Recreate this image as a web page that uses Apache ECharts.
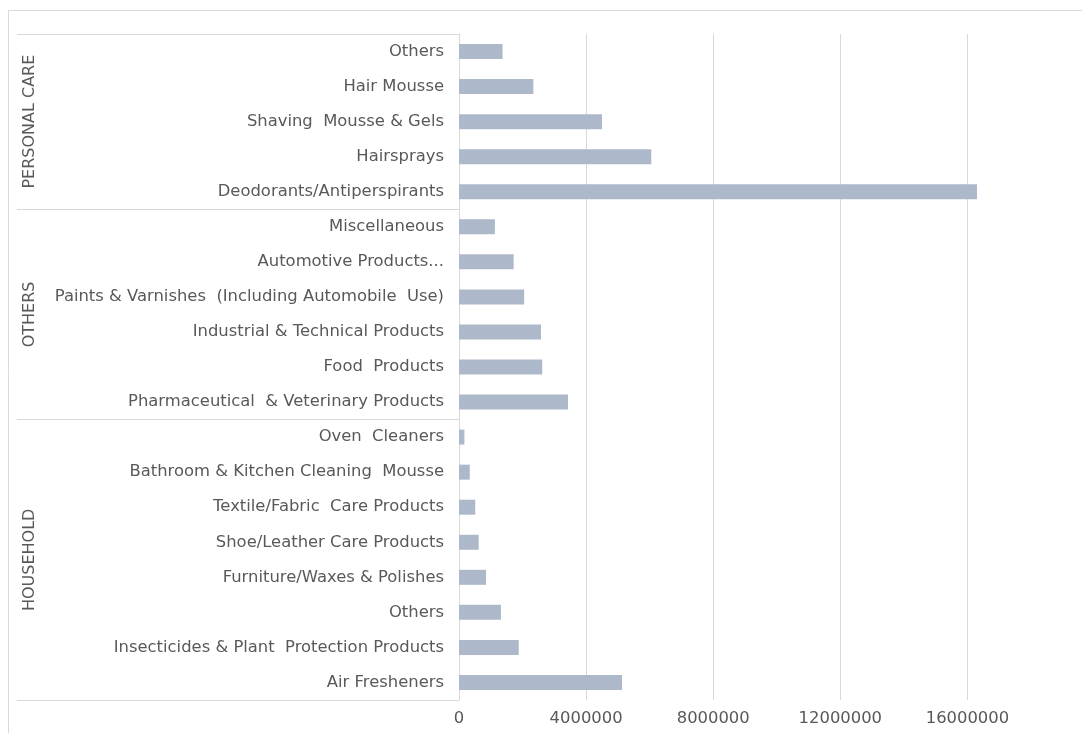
<!DOCTYPE html>
<html>
<head>
<meta charset="utf-8">
<script src="https://cdn.jsdelivr.net/npm/echarts@6/dist/echarts.min.js"></script>
<style>
html,body{margin:0;padding:0;background:#fff;overflow:hidden;}
#c{width:1082px;height:733px;}
</style>
</head>
<body>
<div id="c"></div>
<script>
// Categories listed top to bottom
const categories = [
  "Others", "Hair Mousse", "Shaving  Mousse & Gels", "Hairsprays", "Deodorants/Antiperspirants",
  "Miscellaneous", "Automotive Products...", "Paints & Varnishes  (Including Automobile  Use)",
  "Industrial & Technical Products", "Food  Products", "Pharmaceutical  & Veterinary Products",
  "Oven  Cleaners", "Bathroom & Kitchen Cleaning  Mousse", "Textile/Fabric  Care Products",
  "Shoe/Leather Care Products", "Furniture/Waxes & Polishes", "Others",
  "Insecticides & Plant  Protection Products", "Air Fresheners"
];
const values = [
  1370000, 2340000, 4500000, 6050000, 16300000,
  1130000, 1720000, 2050000, 2580000, 2620000, 3430000,
  170000, 340000, 510000, 620000, 850000, 1320000, 1880000, 5130000
];
const groups = ["PERSONAL CARE", "OTHERS", "HOUSEHOLD"];
const groupSizes = [5, 6, 8];
const xTicks = [0, 4000000, 8000000, 12000000, 16000000];

// group boundaries and centres (in category units)
const bounds = [0];
groupSizes.forEach(s => bounds.push(bounds[bounds.length - 1] + s));
const centres = groupSizes.map((s, i) => bounds[i] + s / 2);

const FONT = "'DejaVu Sans', Verdana, sans-serif";
const TXT = "#595959";
const GRID = "#d9d9d9";

const chart = echarts.init(document.getElementById('c'), null, {renderer: 'canvas'});
chart.setOption({
  backgroundColor: '#fff',
  animation: false,
  graphic: [
    {type: 'line', shape: {x1: 8.5, y1: 10.5, x2: 1082, y2: 10.5}, style: {stroke: GRID, lineWidth: 1}, silent: true},
    {type: 'line', shape: {x1: 8.5, y1: 10.5, x2: 8.5, y2: 733}, style: {stroke: GRID, lineWidth: 1}, silent: true}
  ],
  grid: {left: 459, top: 34, right: 51, bottom: 33, containLabel: false},
  xAxis: {
    type: 'value', min: 0, max: 18000000, interval: 4000000,
    axisLine: {show: false}, axisTick: {show: false},
    axisLabel: {color: TXT, fontFamily: FONT, fontSize: 16.4, margin: 11,
      customValues: xTicks, formatter: v => String(v)},
    splitLine: {show: true, showMaxLine: false, lineStyle: {color: GRID, width: 1}}
  },
  yAxis: [{
    type: 'category', data: categories, inverse: true,
    axisLine: {show: true, lineStyle: {color: GRID}},
    axisTick: {show: false},
    axisLabel: {color: TXT, fontFamily: FONT, fontSize: 16.4, margin: 15, interval: 0},
    splitLine: {show: false}
  }, {
    type: 'value', min: 0, max: categories.length, inverse: true, position: 'left',
    axisLine: {show: false},
    axisTick: {show: true, inside: false, length: 442, customValues: bounds,
      lineStyle: {color: GRID, width: 1}},
    axisLabel: {show: true, customValues: centres, rotate: 90, margin: 421,
      color: TXT, fontFamily: FONT, fontSize: 16,
      formatter: function (v) { const i = centres.indexOf(v); return i >= 0 ? groups[i] : ''; }},
    splitLine: {show: false}
  }],
  series: [{
    type: 'bar', data: values, yAxisIndex: 0,
    barWidth: 15,
    itemStyle: {color: '#adb9ca'}
  }]
});
</script>
</body>
</html>
